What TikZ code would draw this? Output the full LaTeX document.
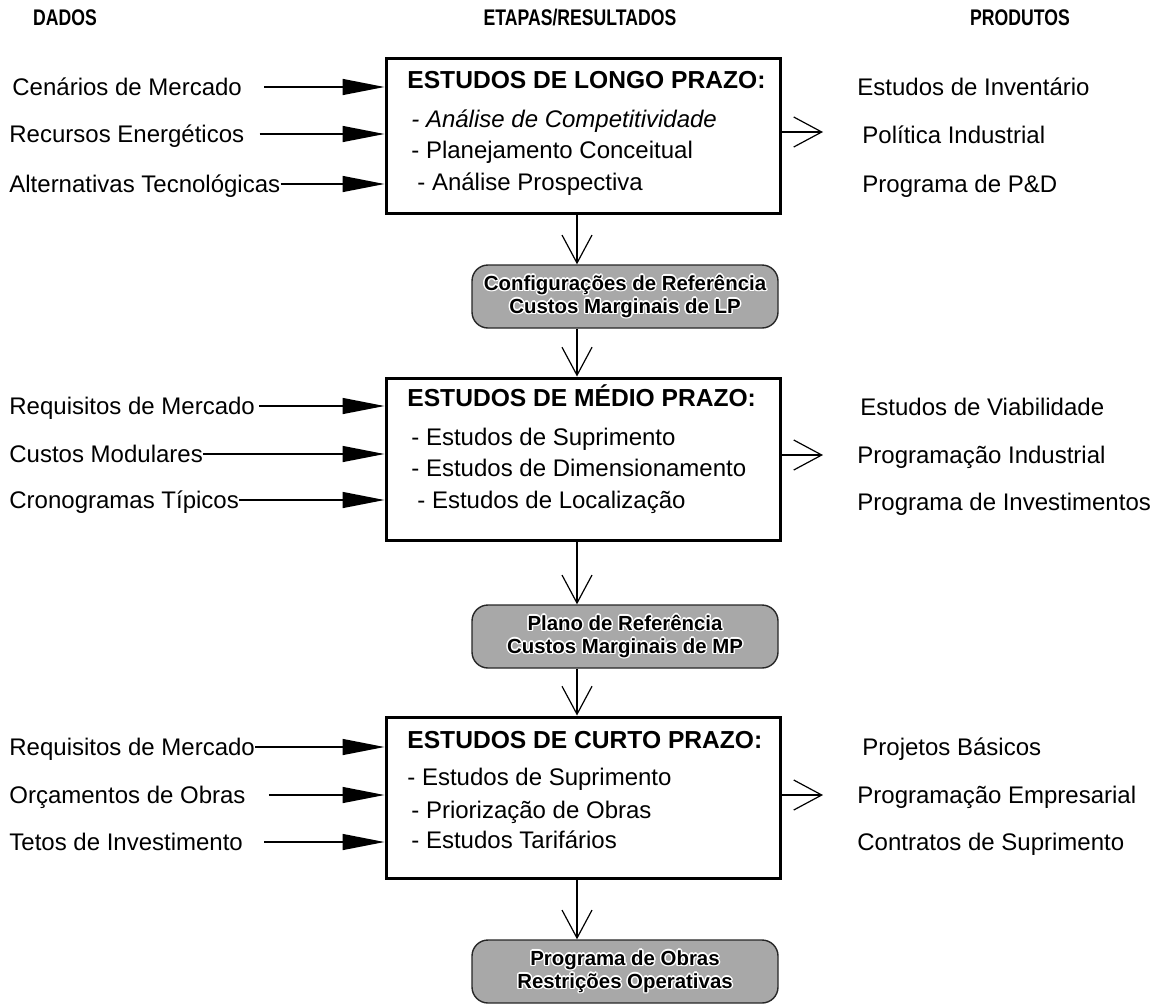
\documentclass[tikz,border=0pt]{standalone}
\usepackage{graphicx}
\usepackage{fontspec}
\setmainfont{Liberation Sans}
\usetikzlibrary{arrows.meta}

% halo text: white copies around the black label
\newcommand\halolabel[3]{%
  \foreach \hx/\hy in {0.75/0,-0.75/0,0/0.75,0/-0.75,0.55/0.55,-0.55/0.55,0.55/-0.55,-0.55/-0.55}
    {\node[gtext,text=white] (#1halo) at ([shift={(\hx pt,\hy pt)}]#2) {#3};}
  \node[gtext] (#1) at (#2) {#3};}

% condensed bold heading
\newcommand\narrowhead[1]{\scalebox{0.78}[1]{#1}}

\begin{document}
\begin{tikzpicture}[x=0.5pt,y=-0.5pt,
  lbl/.style={inner sep=0pt, anchor=west, font=\fontsize{12}{14}\selectfont, text height=10pt, text depth=1.4pt},
  ttl/.style={lbl, font=\fontsize{12.3}{14}\selectfont\bfseries},
  hdr/.style={inner sep=0pt, font=\fontsize{11.3}{13}\selectfont\bfseries},
  stage/.style={draw, line width=1.5pt, minimum width=197pt, inner sep=0pt},
  gbox/.style={draw=black!85, line width=0.7pt, fill=black!34, rounded corners=8pt,
               minimum width=153pt, minimum height=31.5pt, inner sep=0pt},
  gtext/.style={inner sep=0pt, align=center, font=\fontsize{10.2}{11.5}\selectfont\bfseries},
  feed/.style={line width=0.7pt, -{Triangle[length=21pt,width=8pt]}},
  flow/.style={line width=0.6pt, -{Straight Barb[length=14pt,width=15pt]}},
]
\useasboundingbox (0,0) rectangle (1170,1007);

% column headers
\node[hdr] (hd) at (65,18) {\narrowhead{DADOS}};
\node[hdr] (he) at (580,18) {\narrowhead{ETAPAS/RESULTADOS}};
\node[hdr] (hp) at (1020,18) {\narrowhead{PRODUTOS}};

% stage boxes
\node[stage, minimum height=77.5pt] (b1) at (583,135.5) {};
\node[stage, minimum height=81pt]   (b2) at (583,459) {};
\node[stage, minimum height=80.5pt] (b3) at (583,797.5) {};

% result boxes
\node[gbox] (g1) at (625,296.5) {};
\node[gbox] (g2) at (625,636.5) {};
\node[gbox] (g3) at (625,971.5) {};

% stage contents
\node[ttl] (t1)  at (407,80)  {ESTUDOS DE LONGO PRAZO:};
\node[lbl] (t1a) at (411,119) {\itshape - Análise de Competitividade};
\node[lbl] (t1b) at (411,150) {- Planejamento Conceitual};
\node[lbl] (t1c) at (417,182) {- Análise Prospectiva};

\node[ttl] (t2)  at (407,398) {ESTUDOS DE MÉDIO PRAZO:};
\node[lbl] (t2a) at (411,437) {- Estudos de Suprimento};
\node[lbl] (t2b) at (411,468) {- Estudos de Dimensionamento};
\node[lbl] (t2c) at (417,500) {- Estudos de Localização};

\node[ttl] (t3)  at (407,740) {ESTUDOS DE CURTO PRAZO:};
\node[lbl] (t3a) at (407,777) {- Estudos de Suprimento};
\node[lbl] (t3b) at (411,810) {- Priorização de Obras};
\node[lbl] (t3c) at (411,840) {- Estudos Tarifários};

% result texts
\halolabel{r1}{g1.center}{Configurações de Referência\\Custos Marginais de LP}
\halolabel{r2}{g2.center}{Plano de Referência\\Custos Marginais de MP}
\halolabel{r3}{g3.center}{Programa de Obras\\Restrições Operativas}

% data inputs
\node[lbl] (d1) at (12,87)  {Cenários de Mercado};
\node[lbl] (d2) at (9,134)  {Recursos Energéticos};
\node[lbl] (d3) at (9,184)  {Alternativas Tecnológicas};
\node[lbl] (d4) at (9,406)  {Requisitos de Mercado};
\node[lbl] (d5) at (9,454)  {Custos Modulares};
\node[lbl] (d6) at (9,500)  {Cronogramas Típicos};
\node[lbl] (d7) at (9,747)  {Requisitos de Mercado};
\node[lbl] (d8) at (9,795)  {Orçamentos de Obras};
\node[lbl] (d9) at (9,842)  {Tetos de Investimento};

% products
\node[lbl] (p1) at (857,87)  {Estudos de Inventário};
\node[lbl] (p2) at (862,135) {Política Industrial};
\node[lbl] (p3) at (862,184) {Programa de P\&D};
\node[lbl] (p4) at (860,407) {Estudos de Viabilidade};
\node[lbl] (p5) at (857,455) {Programação Industrial};
\node[lbl] (p6) at (857,502) {Programa de Investimentos};
\node[lbl] (p7) at (862,747) {Projetos Básicos};
\node[lbl] (p8) at (857,795) {Programação Empresarial};
\node[lbl] (p9) at (857,842) {Contratos de Suprimento};

% input arrows
\draw[feed] ([xshift=11pt]d1.east)   -- (d1.east -| b1.west);
\draw[feed] ([xshift=7.5pt]d2.east)  -- (d2.east -| b1.west);
\draw[feed] (d3.east)                -- (d3.east -| b1.west);
\draw[feed] ([xshift=2pt]d4.east)    -- (d4.east -| b2.west);
\draw[feed] (d5.east)                -- (d5.east -| b2.west);
\draw[feed] (d6.east)                -- (d6.east -| b2.west);
\draw[feed] (d7.east)                -- (d7.east -| b3.west);
\draw[feed] ([xshift=11.5pt]d8.east) -- (d8.east -| b3.west);
\draw[feed] ([xshift=10.5pt]d9.east) -- (d9.east -| b3.west);

% product arrows
\coordinate (o1) at (823,132);
\coordinate (o2) at (823,455);
\coordinate (o3) at (823,795);
\draw[flow] (b1.east |- o1) -- (o1);
\draw[flow] (b2.east |- o2) -- (o2);
\draw[flow] (b3.east |- o3) -- (o3);

% main flow
\coordinate (axis) at (577,0);
\draw[flow] (b1.south -| axis) -- (g1.north -| axis);
\draw[flow] (g1.south -| axis) -- (b2.north -| axis);
\draw[flow] (b2.south -| axis) -- (g2.north -| axis);
\draw[flow] (g2.south -| axis) -- (b3.north -| axis);
\draw[flow] (b3.south -| axis) -- (g3.north -| axis);
\end{tikzpicture}
\end{document}
